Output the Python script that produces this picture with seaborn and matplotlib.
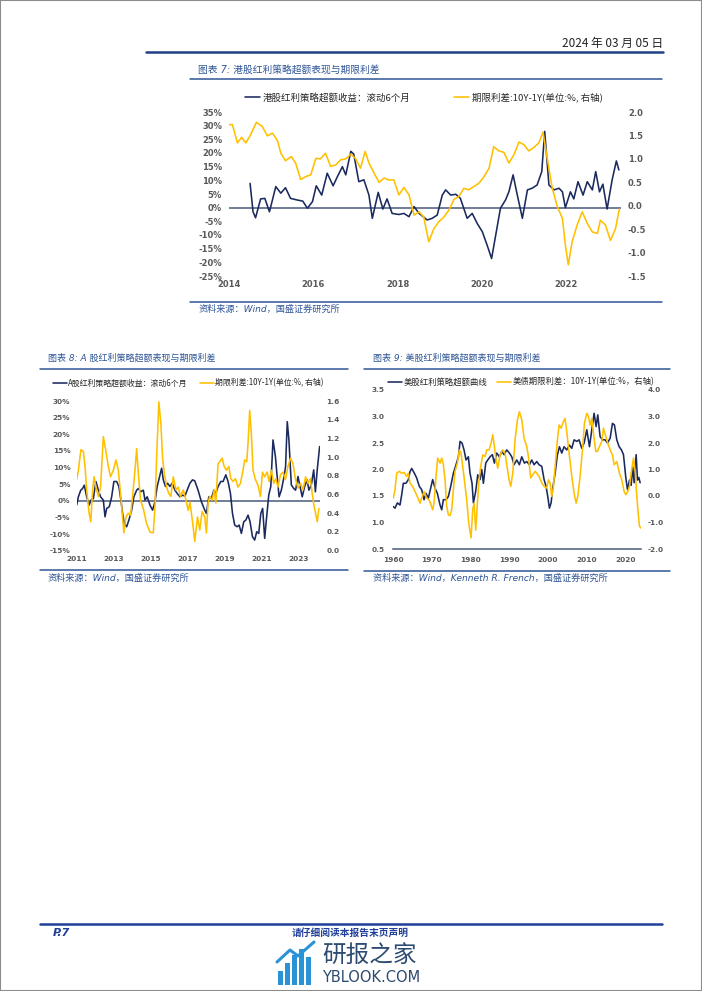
import matplotlib
matplotlib.use("Agg")
import matplotlib.pyplot as plt
import seaborn as sns
from matplotlib.lines import Line2D
from matplotlib.patches import Rectangle

NAVY = "#1B2A5E"
GOLD = "#FFC000"
TITLE_BLUE = "#2F5597"
RULE_BLUE = "#2F5597"
AXIS_GRAY = "#4A5A7A"
LABEL_GRAY = "#595959"

# ---- 图表7: 港股 ----
HK_EXCESS_YEARS = [2014.50, 2014.57, 2014.63, 2014.75, 2014.85, 2014.96, 2015.11, 2015.23, 2015.34, 2015.46,
                   2015.62, 2015.75, 2015.86, 2015.98, 2016.07, 2016.20, 2016.33, 2016.47, 2016.57, 2016.69,
                   2016.77, 2016.89, 2016.96, 2017.08, 2017.20, 2017.32, 2017.40, 2017.54, 2017.65, 2017.75,
                   2017.87, 2018.03, 2018.15, 2018.27, 2018.39, 2018.51, 2018.70, 2018.82, 2018.94, 2019.06,
                   2019.14, 2019.26, 2019.38, 2019.49, 2019.65, 2019.77, 2019.89, 2020.01, 2020.13, 2020.23,
                   2020.32, 2020.44, 2020.56, 2020.64, 2020.74, 2020.84, 2020.96, 2021.08, 2021.19, 2021.31,
                   2021.42, 2021.49, 2021.59, 2021.71, 2021.83, 2021.91, 2021.98, 2022.10, 2022.18, 2022.28,
                   2022.40, 2022.50, 2022.62, 2022.70, 2022.79, 2022.87, 2022.97, 2023.09, 2023.19, 2023.25]
HK_EXCESS = [8.9, -1.5, -3.7, 3.2, 3.4, -1.5, 7.7, 5.3, 7.3, 3.4,
             2.8, 2.4, -0.2, 2.2, 8.0, 4.6, 12.6, 8.0, 11.3, 15.0,
             12.0, 20.6, 19.6, 9.5, 10.2, 4.6, -3.9, 5.6, -0.5, 3.2,
             -2.1, -2.5, -2.1, -3.3, 0.4, -2.1, -4.5, -3.9, -2.7, 4.6,
             6.5, 4.6, 4.9, 3.4, -3.9, -2.1, -5.8, -8.8, -14.0, -18.6,
             -10.7, -0.2, 2.8, 5.8, 12.0, 4.6, -3.9, 6.5, 7.1, 8.3,
             13.2, 27.9, 8.3, 6.5, 7.1, 5.8, 0.0, 5.8, 3.2, 9.5,
             4.6, 9.5, 6.5, 13.2, 5.8, 8.6, -0.5, 10.2, 17.1, 13.8]
HK_SPREAD_YEARS = [2014.00, 2014.08, 2014.20, 2014.30, 2014.40, 2014.51, 2014.65, 2014.79, 2014.91, 2015.03,
                   2015.15, 2015.23, 2015.34, 2015.48, 2015.58, 2015.70, 2015.82, 2015.94, 2016.06, 2016.17,
                   2016.29, 2016.41, 2016.53, 2016.65, 2016.77, 2016.89, 2017.00, 2017.12, 2017.23, 2017.32,
                   2017.44, 2017.56, 2017.68, 2017.79, 2017.91, 2018.03, 2018.15, 2018.27, 2018.39, 2018.51,
                   2018.62, 2018.74, 2018.86, 2018.98, 2019.10, 2019.22, 2019.34, 2019.45, 2019.57, 2019.69,
                   2019.81, 2019.93, 2020.05, 2020.17, 2020.28, 2020.40, 2020.52, 2020.64, 2020.76, 2020.88,
                   2021.00, 2021.11, 2021.23, 2021.35, 2021.45, 2021.55, 2021.67, 2021.79, 2021.91, 2021.98,
                   2022.05, 2022.14, 2022.26, 2022.38, 2022.50, 2022.62, 2022.74, 2022.81, 2022.93, 2023.05,
                   2023.17, 2023.26]
HK_SPREAD = [1.73, 1.73, 1.34, 1.46, 1.34, 1.51, 1.78, 1.69, 1.49, 1.55,
             1.39, 1.12, 0.96, 1.05, 0.91, 0.56, 0.62, 0.66, 1.01, 1.00,
             1.12, 0.84, 0.87, 0.98, 1.00, 1.10, 1.01, 0.80, 1.16, 0.91,
             0.70, 0.50, 0.59, 0.55, 0.55, 0.23, 0.39, 0.23, -0.20, -0.13,
             -0.24, -0.77, -0.49, -0.34, -0.24, -0.09, 0.14, 0.19, 0.37, 0.34,
             0.41, 0.48, 0.62, 0.80, 1.26, 1.17, 1.14, 0.91, 1.09, 1.36,
             1.30, 1.17, 1.24, 1.34, 1.57, 1.01, 0.37, -0.02, -0.27, -0.84,
             -1.26, -0.77, -0.41, -0.13, -0.38, -0.56, -0.59, -0.31, -0.41, -0.74,
             -0.49, -0.07]

# ---- 图表8: A股 ----
A_EXCESS_YEARS = [2011.00, 2011.09, 2011.22, 2011.32, 2011.41, 2011.54, 2011.67, 2011.77, 2011.90, 2012.04,
                  2012.17, 2012.29, 2012.44, 2012.53, 2012.62, 2012.76, 2012.89, 2013.01, 2013.16, 2013.28,
                  2013.39, 2013.48, 2013.57, 2013.70, 2013.82, 2013.97, 2014.09, 2014.24, 2014.33, 2014.45,
                  2014.60, 2014.69, 2014.81, 2014.96, 2015.10, 2015.23, 2015.35, 2015.46, 2015.59, 2015.68,
                  2015.80, 2015.91, 2016.04, 2016.16, 2016.31, 2016.43, 2016.58, 2016.72, 2016.85, 2016.97,
                  2017.12, 2017.26, 2017.38, 2017.56, 2017.74, 2017.92, 2018.01, 2018.14, 2018.28, 2018.41,
                  2018.52, 2018.64, 2018.79, 2018.91, 2019.06, 2019.18, 2019.31, 2019.42, 2019.54, 2019.67,
                  2019.78, 2019.90, 2020.03, 2020.14, 2020.26, 2020.37, 2020.50, 2020.62, 2020.73, 2020.84,
                  2020.95, 2021.05, 2021.16, 2021.25, 2021.38, 2021.49, 2021.61, 2021.74, 2021.85, 2021.94,
                  2022.06, 2022.19, 2022.29, 2022.38, 2022.47, 2022.60, 2022.73, 2022.83, 2022.96, 2023.07,
                  2023.19, 2023.32, 2023.45, 2023.55, 2023.68, 2023.81, 2023.90, 2024.00, 2024.13]
A_EXCESS = [-1.3, 1.2, 3.2, 3.7, 4.7, 1.2, -1.3, 0.2, 0.7, 5.8,
            3.2, 1.2, 0.2, -4.8, -2.3, -1.8, 1.2, 5.8, 5.8, 4.3,
            0.2, -3.8, -6.8, -7.8, -5.8, -2.8, 1.2, 3.2, 3.7, 2.7,
            3.2, 0.2, 1.2, -1.3, -2.8, -0.3, 4.3, 6.8, 9.8, 6.3,
            4.3, 5.3, 4.3, 5.3, 3.2, 2.2, 1.2, 1.7, 1.4, 3.2,
            5.3, 6.3, 6.0, 3.2, -0.3, -2.8, -3.8, 1.2, 0.7, 3.2,
            2.2, 4.3, 5.8, 5.8, 7.8, 5.8, 2.2, -3.8, -7.3, -7.8,
            -7.3, -9.8, -6.3, -5.8, -4.3, -6.3, -10.8, -11.8, -9.3, -9.8,
            -3.8, -2.3, -11.3, -5.8, 1.7, 4.3, 18.3, 13.3, 6.3, 1.2,
            3.2, 6.8, 10.3, 23.8, 18.3, 4.8, 3.7, 3.2, 7.3, 4.3,
            1.2, 4.3, 6.3, 3.2, 4.8, 9.3, 2.7, 9.3, 16.3]
A_SPREAD_YEARS = [2011.00, 2011.09, 2011.23, 2011.36, 2011.45, 2011.54, 2011.67, 2011.76, 2011.86, 2011.94,
                  2012.04, 2012.17, 2012.29, 2012.44, 2012.58, 2012.71, 2012.83, 2012.98, 2013.12, 2013.25,
                  2013.37, 2013.46, 2013.55, 2013.66, 2013.79, 2013.91, 2014.02, 2014.15, 2014.24, 2014.33,
                  2014.45, 2014.60, 2014.78, 2014.96, 2015.14, 2015.23, 2015.32, 2015.44, 2015.55, 2015.64,
                  2015.73, 2015.86, 2015.98, 2016.09, 2016.22, 2016.36, 2016.49, 2016.61, 2016.76, 2016.88,
                  2017.03, 2017.12, 2017.26, 2017.38, 2017.53, 2017.65, 2017.78, 2017.92, 2018.01, 2018.10,
                  2018.19, 2018.32, 2018.43, 2018.52, 2018.64, 2018.73, 2018.86, 2018.97, 2019.09, 2019.22,
                  2019.33, 2019.45, 2019.58, 2019.72, 2019.85, 2019.96, 2020.08, 2020.19, 2020.26, 2020.35,
                  2020.44, 2020.53, 2020.66, 2020.80, 2020.93, 2021.04, 2021.16, 2021.29, 2021.40, 2021.52,
                  2021.65, 2021.76, 2021.88, 2022.01, 2022.15, 2022.28, 2022.42, 2022.56, 2022.69, 2022.82,
                  2022.96, 2023.10, 2023.23, 2023.37, 2023.50, 2023.63, 2023.73, 2023.82, 2023.91, 2024.00,
                  2024.09]
A_SPREAD = [0.76, 0.86, 1.08, 1.06, 0.90, 0.65, 0.40, 0.31, 0.65, 0.79,
            0.68, 0.58, 0.68, 1.22, 1.06, 0.90, 0.79, 0.86, 0.97, 0.86,
            0.61, 0.40, 0.19, 0.36, 0.40, 0.38, 0.58, 0.86, 1.09, 0.83,
            0.54, 0.45, 0.29, 0.20, 0.19, 0.47, 1.00, 1.59, 1.36, 1.00,
            0.83, 0.68, 0.61, 0.58, 0.79, 0.65, 0.68, 0.58, 0.65, 0.56,
            0.43, 0.52, 0.31, 0.10, 0.36, 0.22, 0.42, 0.36, 0.19, 0.51,
            0.58, 0.54, 0.65, 0.51, 0.93, 0.95, 0.99, 0.90, 0.86, 0.90,
            0.77, 0.74, 0.77, 0.68, 0.72, 0.83, 0.97, 0.95, 1.15, 1.50,
            1.25, 0.86, 0.76, 0.70, 0.58, 0.84, 0.79, 0.84, 0.74, 0.86,
            0.72, 0.77, 0.68, 0.81, 0.84, 0.76, 0.90, 0.99, 0.93, 0.77,
            0.67, 0.72, 0.65, 0.79, 0.72, 0.77, 0.61, 0.49, 0.40, 0.31,
            0.45]

# ---- 图表9: 美股 ----
US_EXCESS_YEARS = [1960.09, 1960.52, 1961.12, 1961.81, 1962.24, 1962.67, 1963.36, 1963.97, 1964.40, 1964.83,
                   1965.52, 1966.12, 1966.81, 1967.41, 1968.02, 1968.53, 1969.14, 1969.74, 1970.26, 1970.86,
                   1971.47, 1972.16, 1972.59, 1973.02, 1973.71, 1974.31, 1974.91, 1975.60, 1976.29, 1976.90,
                   1977.33, 1977.84, 1978.36, 1978.88, 1979.48, 1979.91, 1980.43, 1980.78, 1981.38, 1981.90,
                   1982.50, 1982.93, 1983.36, 1983.97, 1984.48, 1985.09, 1985.69, 1986.21, 1986.81, 1987.50,
                   1988.10, 1988.71, 1989.40, 1990.09, 1990.69, 1991.29, 1991.98, 1992.67, 1993.28, 1993.97,
                   1994.57, 1995.26, 1995.86, 1996.47, 1997.16, 1997.76, 1998.45, 1999.05, 1999.57, 2000.00,
                   2000.43, 2000.86, 2001.29, 2001.90, 2002.50, 2003.02, 2003.62, 2004.22, 2004.91, 2005.60,
                   2006.21, 2006.81, 2007.50, 2008.10, 2008.79, 2009.40, 2010.09, 2010.78, 2011.38, 2011.98,
                   2012.50, 2012.93, 2013.53, 2014.14, 2014.83, 2015.43, 2016.12, 2016.72, 2017.24, 2017.84,
                   2018.45, 2019.05, 2019.57, 2020.17, 2020.60, 2021.12, 2021.55, 2021.98, 2022.33, 2022.84,
                   2023.19, 2023.53, 2023.88]
US_EXCESS = [1.30, 1.27, 1.37, 1.33, 1.52, 1.74, 1.74, 1.81, 1.96, 2.02,
             1.93, 1.84, 1.68, 1.62, 1.43, 1.55, 1.46, 1.65, 1.81, 1.65,
             1.55, 1.33, 1.24, 1.43, 1.43, 1.49, 1.68, 1.93, 2.09, 2.24,
             2.53, 2.50, 2.37, 2.18, 2.24, 1.93, 1.74, 1.37, 1.59, 1.90,
             1.81, 2.00, 1.74, 2.12, 2.18, 2.24, 2.28, 2.12, 2.31, 2.24,
             2.34, 2.28, 2.37, 2.31, 2.24, 2.09, 2.18, 2.09, 2.24, 2.12,
             2.15, 2.09, 2.18, 2.09, 2.15, 2.09, 2.06, 1.81, 1.68, 1.49,
             1.27, 1.37, 1.65, 1.93, 2.28, 2.43, 2.31, 2.43, 2.37, 2.46,
             2.40, 2.56, 2.53, 2.56, 2.40, 2.50, 2.75, 2.43, 2.75, 3.06,
             2.81, 3.03, 2.62, 2.56, 2.56, 2.50, 2.59, 2.87, 2.84, 2.56,
             2.43, 2.37, 2.28, 1.85, 1.62, 1.80, 1.70, 2.05, 1.75, 2.28,
             1.80, 1.85, 1.75]
US_SPREAD_YEARS = [1960.09, 1960.52, 1960.95, 1961.64, 1962.24, 1962.84, 1963.53, 1963.97, 1964.40, 1965.09,
                   1965.69, 1966.29, 1966.98, 1967.41, 1968.02, 1968.71, 1969.31, 1969.83, 1970.26, 1970.60,
                   1971.12, 1971.55, 1972.16, 1972.59, 1973.02, 1973.45, 1973.88, 1974.31, 1974.74, 1975.17,
                   1975.60, 1976.03, 1976.64, 1977.16, 1977.59, 1978.02, 1978.45, 1979.05, 1979.57, 1980.17,
                   1980.60, 1980.95, 1981.38, 1981.81, 1982.24, 1982.67, 1983.19, 1983.79, 1984.22, 1984.83,
                   1985.34, 1985.78, 1986.21, 1986.64, 1987.07, 1987.67, 1988.36, 1988.97, 1989.40, 1990.00,
                   1990.43, 1990.95, 1991.55, 1992.16, 1992.67, 1993.28, 1993.88, 1994.57, 1995.00, 1995.60,
                   1996.12, 1996.72, 1997.16, 1997.76, 1998.45, 1999.05, 1999.74, 2000.17, 2000.60, 2001.03,
                   2001.47, 2001.98, 2002.50, 2002.93, 2003.45, 2004.05, 2004.48, 2004.91, 2005.52, 2006.21,
                   2006.81, 2007.33, 2007.76, 2008.36, 2008.97, 2009.48, 2010.09, 2010.52, 2010.95, 2011.38,
                   2011.81, 2012.41, 2012.84, 2013.36, 2013.97, 2014.40, 2015.00, 2015.52, 2016.12, 2016.72,
                   2017.16, 2017.84, 2018.53, 2019.14, 2019.74, 2020.17, 2020.69, 2021.12, 2021.55, 2022.16,
                   2022.59, 2023.02, 2023.45, 2023.71, 2024.05]
US_SPREAD = [-0.08, 0.24, 0.86, 0.93, 0.86, 0.89, 0.74, 0.86, 0.49, 0.36,
             0.17, -0.02, -0.27, -0.08, 0.17, -0.08, -0.14, -0.33, -0.52, -0.27,
             0.74, 1.43, 1.24, 1.43, 1.18, 0.61, -0.39, -0.71, -0.74, -0.52,
             0.24, 0.93, 1.24, 1.74, 1.62, 1.11, 0.61, -0.14, -1.02, -1.58,
             -0.52, -0.27, -1.29, -0.27, 0.61, 1.11, 1.55, 1.49, 1.74, 1.74,
             1.99, 2.31, 1.87, 1.36, 1.05, 1.55, 1.74, 1.62, 1.18, 0.61,
             0.36, 0.86, 2.12, 2.87, 3.18, 2.87, 2.18, 1.87, 1.49, 0.68,
             0.80, 0.93, 0.86, 0.74, 0.49, 0.36, 0.30, 0.61, 0.49, -0.02,
             0.36, 1.24, 2.12, 2.68, 2.56, 2.81, 2.93, 2.43, 1.62, 0.74,
             0.11, -0.27, -0.02, 0.74, 1.74, 2.75, 3.12, 3.00, 2.68, 2.93,
             2.37, 1.68, 1.68, 1.87, 2.06, 2.56, 2.24, 1.99, 1.74, 1.55,
             1.18, 1.30, 0.86, 0.61, 0.17, 0.05, 0.17, 0.36, 0.86, 1.43,
             0.93, -0.02, -0.77, -1.14, -1.21]

HK_XTICKS = [2014, 2016, 2018, 2020, 2022]
HK_YTICKS_L = [-25, -20, -15, -10, -5, 0, 5, 10, 15, 20, 25, 30, 35]
HK_YTICKS_R = [-1.5, -1.0, -0.5, 0.0, 0.5, 1.0, 1.5, 2.0]
A_XTICKS = [2011, 2013, 2015, 2017, 2019, 2021, 2023]
A_YTICKS_L = [-15, -10, -5, 0, 5, 10, 15, 20, 25, 30]
A_YTICKS_R = [0.0, 0.2, 0.4, 0.6, 0.8, 1.0, 1.2, 1.4, 1.6]
US_XTICKS = [1960, 1970, 1980, 1990, 2000, 2010, 2020]
US_YTICKS_L = [0.5, 1.0, 1.5, 2.0, 2.5, 3.0, 3.5]
US_YTICKS_R = [-2.0, -1.0, 0.0, 1.0, 2.0, 3.0, 4.0]

W, H = 702, 991

sns.set_theme(style="white")
plt.rcParams["font.family"] = ["Noto Sans CJK SC", "DejaVu Sans"]
LATIN_CJK = ["DejaVu Sans", "Noto Sans CJK SC"]


def fx(x):
    return x / W


def fy(y):
    return 1 - y / H


def px_rect(left, top, right, bottom):
    return [left / W, 1 - bottom / H, (right - left) / W, (bottom - top) / H]


def hline(fig, x0, x1, y, color, lw):
    fig.add_artist(Line2D([fx(x0), fx(x1)], [fy(y), fy(y)], color=color, lw=lw,
                          transform=fig.transFigure))


def draw_panel(fig, rect, left_x, left_y, right_x, right_y, xlim, ylim_l, ylim_r,
               xticks, yticks_l, yticks_r, fmt_l, fmt_r, tick_size, pads, baseline):
    ax = fig.add_axes(rect)
    ax2 = ax.twinx()
    sns.lineplot(x=left_x, y=left_y, ax=ax, color=NAVY, lw=1.15)
    h_left = ax.lines[-1]
    sns.lineplot(x=right_x, y=right_y, ax=ax2, color=GOLD, lw=1.15)
    h_right = ax2.lines[-1]

    ax.set_xlim(*xlim)
    ax.set_ylim(*ylim_l)
    ax2.set_ylim(*ylim_r)

    tick_kw = dict(fontsize=tick_size, fontweight="bold", color=LABEL_GRAY, family="DejaVu Sans")
    ax.set_xticks(xticks, labels=[str(t) for t in xticks], **tick_kw)
    ax.set_yticks(yticks_l, labels=[fmt_l.format(t) for t in yticks_l], **tick_kw)
    ax2.set_yticks(yticks_r, labels=[fmt_r.format(t) for t in yticks_r], **tick_kw)

    for a in (ax, ax2):
        for s in a.spines.values():
            s.set_visible(False)
        a.grid(False)
        a.set_xlabel("")
        a.set_ylabel("")
        a.patch.set_alpha(0)
    ax.tick_params(axis="y", length=0, pad=pads[0])
    ax2.tick_params(axis="y", length=0, pad=pads[1])

    if baseline is None:
        ax.tick_params(axis="x", length=0, pad=pads[2])
        ax.axhline(0, color=AXIS_GRAY, lw=1.1, zorder=1)
    else:
        ax.spines["bottom"].set_visible(True)
        ax.spines["bottom"].set_color(AXIS_GRAY)
        ax.spines["bottom"].set_linewidth(1.1)
        ax.tick_params(axis="x", direction="inout", length=3, width=0.8,
                       color=AXIS_GRAY, pad=pads[2])
    return ax, h_left, h_right


def add_legend(fig, handles, labels, x, y, size, handlelength, textpad, colspace):
    fig.legend(handles, labels, loc="center left", bbox_to_anchor=(fx(x), fy(y)),
               bbox_transform=fig.transFigure, ncol=2, frameon=False, borderpad=0,
               borderaxespad=0, handlelength=handlelength,
               handletextpad=textpad, columnspacing=colspace,
               prop={"family": ["Noto Sans CJK SC", "DejaVu Sans"], "size": size})


fig = plt.figure(figsize=(W / 100, H / 100), dpi=100)
fig.patch.set_facecolor("white")

# page header
fig.text(fx(663), fy(43), "2024 年 03 月 05 日", ha="right", va="center",
         fontsize=8.5, color="#222222")
hline(fig, 146, 663, 52, "#1F3F86", 1.8)

# chart 7
fig.text(fx(198), fy(70), "图表 7: 港股红利策略超额表现与期限利差", ha="left", va="center",
         fontsize=7, color=TITLE_BLUE, style="italic", family=LATIN_CJK)
hline(fig, 190, 662, 79, RULE_BLUE, 1.1)
ax7, h1, h2 = draw_panel(fig, px_rect(229, 112, 621, 276), HK_EXCESS_YEARS, HK_EXCESS,
                         HK_SPREAD_YEARS, HK_SPREAD, (2014, 2023.30), (-25, 35), (-1.5, 2.0),
                         HK_XTICKS, HK_YTICKS_L, HK_YTICKS_R, "{:.0f}%", "{:.1f}",
                         6, (5, 5, 3), None)
add_legend(fig, [h1, h2], ["港股红利策略超额收益：滚动6个月", "期限利差:10Y-1Y(单位:%, 右轴)"],
           245, 97.5, 6.8, 1.6, 0.3, 4.6)
hline(fig, 190, 662, 302, RULE_BLUE, 1.1)
fig.text(fx(199), fy(309), "资料来源：Wind，国盛证券研究所", ha="left", va="center",
         fontsize=6.6, color=TITLE_BLUE, style="italic", family=LATIN_CJK)

# chart 8
fig.text(fx(48), fy(358), "图表 8: A 股红利策略超额表现与期限利差", ha="left", va="center",
         fontsize=6.5, color=TITLE_BLUE, style="italic", family=LATIN_CJK)
hline(fig, 40, 348, 369, RULE_BLUE, 1.1)
ax8, h1, h2 = draw_panel(fig, px_rect(76.7, 401, 320, 550.7), A_EXCESS_YEARS, A_EXCESS,
                         A_SPREAD_YEARS, A_SPREAD, (2011, 2024.15), (-15, 30), (0, 1.6),
                         A_XTICKS, A_YTICKS_L, A_YTICKS_R, "{:.0f}%", "{:.1f}",
                         5.3, (4.5, 4.5, 3.5), None)
add_legend(fig, [h1, h2], ["A股红利策略超额收益：滚动6个月", "期限利差:10Y-1Y(单位:%, 右轴)"],
           53, 383, 5.7, 1.8, 0.15, 1.5)
hline(fig, 40, 348, 570, RULE_BLUE, 1.1)
fig.text(fx(48), fy(578), "资料来源：Wind，国盛证券研究所", ha="left", va="center",
         fontsize=6.6, color=TITLE_BLUE, style="italic", family=LATIN_CJK)

# chart 9
fig.text(fx(373), fy(358), "图表 9: 美股红利策略超额表现与期限利差", ha="left", va="center",
         fontsize=6.5, color=TITLE_BLUE, style="italic", family=LATIN_CJK)
hline(fig, 364, 670, 369, RULE_BLUE, 1.1)
ax9, h1, h2 = draw_panel(fig, px_rect(393, 390, 641, 549), US_EXCESS_YEARS, US_EXCESS,
                         US_SPREAD_YEARS, US_SPREAD, (1960, 2024.1), (0.5, 3.5), (-2.0, 4.0),
                         US_XTICKS, US_YTICKS_L, US_YTICKS_R, "{:.1f}", "{:.1f}",
                         5.3, (6, 4.5, 4), 0.5)
add_legend(fig, [h1, h2], ["美股红利策略超额曲线", "美债期限利差：10Y-1Y(单位:%，右轴)"],
           388, 382, 6.0, 1.7, 0.15, 1.2)
hline(fig, 364, 670, 571, RULE_BLUE, 1.1)
fig.text(fx(373), fy(578), "资料来源：Wind，Kenneth R. French，国盛证券研究所", ha="left",
         va="center", fontsize=6.6, color=TITLE_BLUE, style="italic", family=LATIN_CJK)

# footer
hline(fig, 40, 662, 924, "#1F3F99", 1.8)
fig.text(fx(53), fy(933), "P.7", ha="left", va="center", fontsize=8, fontweight="bold",
         style="italic", color="#1F3F99", family="DejaVu Sans")
fig.text(fx(350), fy(933), "请仔细阅读本报告末页声明", ha="center", va="center", fontsize=7,
         fontweight="bold", color="#1F3F99")

# watermark
for bx, bh in [(278, 14), (285, 22), (292, 30), (299, 36), (306, 28)]:
    fig.add_artist(Rectangle((fx(bx), fy(985)), 5 / W, bh / H, transform=fig.transFigure,
                             facecolor="#2A93D5", edgecolor="none"))
fig.add_artist(Line2D([fx(277), fx(290), fx(298), fx(314)], [fy(962), fy(950), fy(956), fy(942)],
                      color="#2A93D5", lw=2.2, transform=fig.transFigure))
fig.text(fx(322), fy(955), "研报之家", ha="left", va="center", fontsize=17, color="#2D4B70")
fig.text(fx(322), fy(977), "YBLOOK.COM", ha="left", va="center", fontsize=10.5,
         color="#2D4B70", family="DejaVu Sans")

fig.add_artist(Rectangle((0, 0), 1, 1, transform=fig.transFigure, fill=False,
                         edgecolor="#8C8C8C", lw=1.5))

fig.savefig("out.png", dpi=100)
plt.close(fig)
